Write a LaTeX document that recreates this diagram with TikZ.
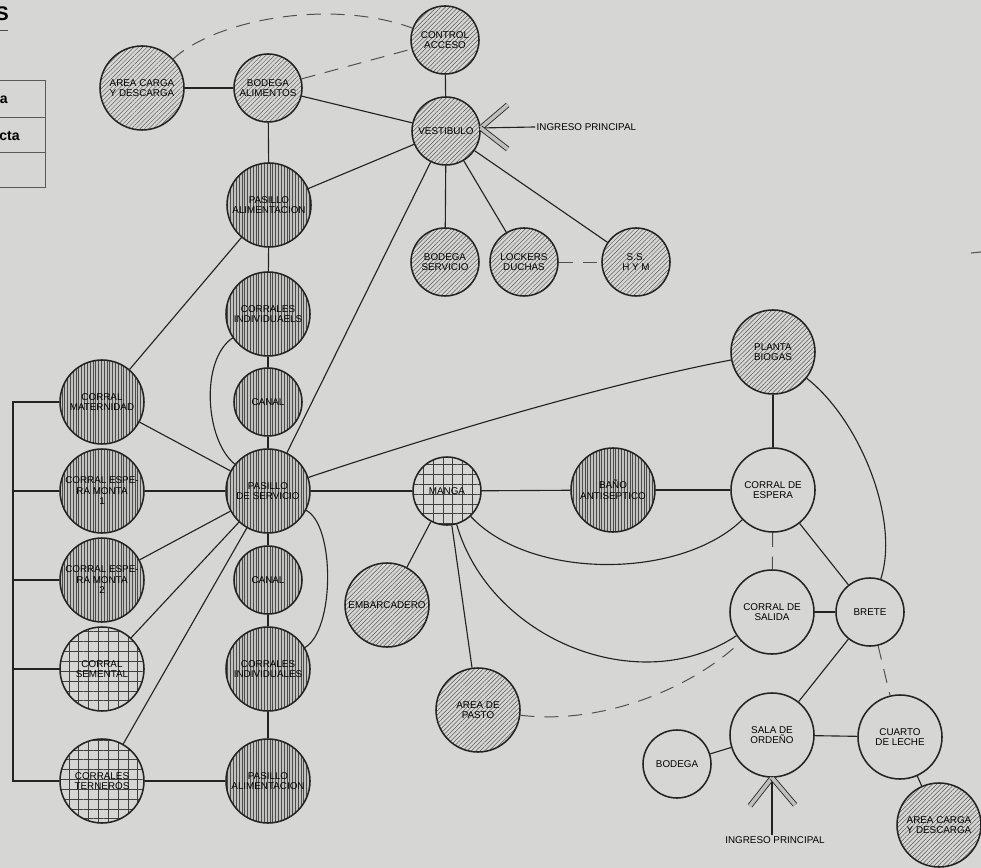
\documentclass[tikz,border=0pt]{standalone}
\usepackage{fontspec}
\setmainfont{Liberation Sans}
\setsansfont{Liberation Sans}
\usetikzlibrary{patterns.meta}
\definecolor{papel}{RGB}{214,214,212}
\definecolor{tinta}{RGB}{35,35,35}
\tikzset{
    mynodeh/.style = {circle, line width=1.1pt, draw=tinta, align=center, inner sep=0pt, preaction={fill=papel}, pattern={Lines[angle=45,distance=2.2pt,line width=0.35pt]}, pattern color=black!65, font=\fontsize{7}{7.5}\selectfont, text=black},
    mynodev/.style = {circle, line width=1.1pt, draw=tinta, align=center, inner sep=0pt, preaction={fill=papel!90!black}, pattern={Lines[angle=90,distance=2pt,line width=0.4pt]}, pattern color=black!70, font=\fontsize{7}{7.5}\selectfont, text=black},
    mynodeg/.style = {circle, line width=1.1pt, draw=tinta, align=center, inner sep=0pt, preaction={fill=papel}, pattern={Hatch[angle=0,distance=7pt,line width=0.45pt]}, pattern color=black!75, font=\fontsize{7}{7.5}\selectfont, text=black},
    mynodew/.style = {circle, line width=1.1pt, draw=tinta, align=center, inner sep=0pt, fill=papel, font=\fontsize{7}{7.5}\selectfont, text=black},
    lg/.style = {minimum size=21mm},
    sm/.style = {minimum size=17mm},
    edgen/.style = {-, line width=0.8pt, tinta},
    edged/.style = {-, line width=0.7pt, tinta!80, dash pattern=on 10pt off 7pt}, % optional link
    ingreso/.style = {line width=0.6pt, tinta, double=gray!50, double distance=2.6pt},
    rotulo/.style = {font=\fontsize{7}{8}\selectfont, inner sep=1pt}
}

\begin{document}
\begin{tikzpicture}[x=0.25mm, y=-0.25mm]
\useasboundingbox (0,0) rectangle (981,868);
\clip (0,0) rectangle (981,868);
\fill[papel] (0,0) rectangle (981,868);

% legend, cut at the left edge
\draw[gray!70!black, line width=0.7pt] (-20,80) rectangle (45,187);
\draw[gray!70!black, line width=0.7pt] (-20,117) -- (45,117);
\draw[gray!70!black, line width=0.7pt] (-20,152) -- (45,152);
\node[anchor=east, font=\bfseries\fontsize{10}{10}\selectfont, inner sep=0] (leg1) at (8,100) {a};
\node[anchor=east, font=\bfseries\fontsize{10}{10}\selectfont, inner sep=0] (leg2) at (20,136) {cta};
\node[anchor=east, font=\bfseries\fontsize{14}{14}\selectfont, inner sep=0] (titulo) at (9,14) {S};
\draw[gray!60!black, line width=0.7pt] (0,30) -- (8,30);
\draw[gray!70!black, line width=0.8pt] (971,253) -- (981,252);

% administracion
\node[mynodeh, lg] at (142, 88) (acarga1) {AREA CARGA\\Y DESCARGA};
\node[mynodeh, sm] at (268, 88) (balim) {BODEGA\\ALIMENTOS};
\node[mynodeh, sm] at (445, 40) (cacceso) {CONTROL\\ACCESO};
\node[mynodeh, sm] at (446,131) (vest) {VESTIBULO};
\node[mynodeh, sm] at (445,262) (bserv) {BODEGA\\SERVICIO};
\node[mynodeh, sm] at (524,262) (lockers) {LOCKERS\\DUCHAS};
\node[mynodeh, sm] at (636,262) (sshm) {S.S.\\H Y M};

% corrales
\node[mynodev, lg] at (269,205) (palim1) {PASILLO\\ALIMENTACION};
\node[mynodev, lg] at (268,314) (cind1) {CORRALES\\INDIVIDUAELS};
\node[mynodev, sm] at (268,402) (canal1) {CANAL};
\node[mynodev, lg] at (268,491) (pserv) {PASILLO\\DE SERVICIO};
\node[mynodev, sm] at (268,580) (canal2) {CANAL};
\node[mynodev, lg] at (268,669) (cind2) {CORRALES\\INDIVIDUALES};
\node[mynodev, lg] at (268,781) (palim2) {PASILLO\\ALIMENTACION};
\node[mynodev, lg] at (102,402) (cmat) {CORRAL\\MATERNIDAD};
\node[mynodev, lg] at (102,491) (cem1) {CORRAL ESPE-\\RA MONTA\\1};
\node[mynodev, lg] at (102,580) (cem2) {CORRAL ESPE-\\RA MONTA\\2};
\node[mynodeg, lg] at (102,669) (csem) {CORRAL\\SEMENTAL};
\node[mynodeg, lg] at (102,781) (cter) {CORRALES\\TERNEROS};

% manejo y ordeno
\node[mynodeg, sm] at (447,491) (manga) {MANGA};
\node[mynodev, lg] at (613,490) (bano) {BAÑO\\ANTISEPTICO};
\node[mynodeh, lg] at (387,605) (embarc) {EMBARCADERO};
\node[mynodeh, lg] at (478,710) (apasto) {AREA DE\\PASTO};
\node[mynodeh, lg] at (773,352) (biogas) {PLANTA\\BIOGAS};
\node[mynodew, lg] at (773,490) (cesp) {CORRAL DE\\ESPERA};
\node[mynodew, lg] at (772,612) (csal) {CORRAL DE\\SALIDA};
\node[mynodew, sm] at (870,612) (brete) {BRETE};
\node[mynodew, lg] at (772,735) (sorden) {SALA DE\\ORDEÑO};
\node[mynodew, sm] at (677,764) (bodega) {BODEGA};
\node[mynodew, lg] at (900,737) (cleche) {CUARTO\\DE LECHE};
\node[mynodeh, lg] at (939,825) (acarga2) {AREA CARGA\\Y DESCARGA};

\node[rotulo, anchor=west] at (535,127) (ingreso1) {INGRESO PRINCIPAL};
\node[rotulo] at (775,840) (ingreso2) {INGRESO PRINCIPAL};

\draw[edgen] (acarga1) -- (balim);
\draw[edged] (acarga1) .. controls (215,20) and (330,-2) .. (cacceso);
\draw[edged] (balim) -- (cacceso);
\draw[edgen] (balim) -- (vest);
\draw[edgen] (cacceso) -- (vest);
\draw[edgen] (balim) -- (palim1);
\draw[edgen] (palim1) -- (vest);
\draw[edgen] (vest) -- (bserv);
\draw[edgen] (vest) -- (lockers);
\draw[edgen] (vest) -- (sshm);
\draw[edged] (lockers) -- (sshm);
\draw[edgen] (vest) -- (pserv);
\draw[edgen] (ingreso1.west) -- (vest.5);
\draw[ingreso] (vest.5) -- ++(27,-23);
\draw[ingreso] (vest.5) -- ++(27,21);

\draw[edgen] (palim1) -- (cind1);
\draw[edgen] (palim1) -- (cmat);
\draw[edgen] (cind1) -- (canal1);
\draw[edgen] (canal1) -- (pserv);
\draw[edgen] (cind1) .. controls (200,360) and (205,440) .. (pserv);
\draw[edgen] (pserv) -- (canal2);
\draw[edgen] (canal2) -- (cind2);
\draw[edgen] (cind2) -- (palim2);
\draw[edgen] (pserv) .. controls (335,525) and (335,630) .. (cind2);
\draw[edgen] (cmat) -- (pserv);
\draw[edgen] (cem1) -- (pserv);
\draw[edgen] (cem2) -- (pserv);
\draw[edgen] (csem) -- (pserv);
\draw[edgen] (cter) -- (pserv);
\draw[edgen] (cter) -- (palim2);

% rail on the left
\coordinate (rail) at (13,0);
\draw[edgen] (cmat.west) -- (cmat.west -| rail) -- (cter.west -| rail) -- (cter.west);
\draw[edgen] (cem1.west) -- (cem1.west -| rail);
\draw[edgen] (cem2.west) -- (cem2.west -| rail);
\draw[edgen] (csem.west) -- (csem.west -| rail);

\draw[edgen] (pserv) -- (manga);
\draw[edgen] (pserv) .. controls (420,440) and (600,385) .. (biogas);
\draw[edgen] (manga) -- (bano);
\draw[edgen] (bano) -- (cesp);
\draw[edgen] (manga) .. controls (530,580) and (680,580) .. (cesp);
\draw[edgen] (manga) .. controls (490,640) and (640,700) .. (csal);
\draw[edgen] (manga) -- (embarc);
\draw[edgen] (manga) -- (apasto);
\draw[edged] (apasto) .. controls (600,725) and (690,690) .. (csal);

\draw[edgen] (biogas) -- (cesp);
\draw[edgen] (biogas) .. controls (860,420) and (900,520) .. (brete);
\draw[edgen] (cesp) -- (brete);
\draw[edged] (cesp) -- (csal);
\draw[edgen] (csal) -- (brete);
\draw[edgen] (brete) -- (sorden);
\draw[edged] (brete) -- (cleche);
\draw[edgen] (sorden) -- (bodega);
\draw[edgen] (sorden) -- (cleche);
\draw[edgen] (cleche) -- (acarga2);
\draw[edgen] (sorden.south |- ingreso2.north) -- (sorden.south);
\draw[ingreso] (sorden.south) -- ++(-22,28);
\draw[ingreso] (sorden.south) -- ++(23,27);

\end{tikzpicture}
\end{document}
